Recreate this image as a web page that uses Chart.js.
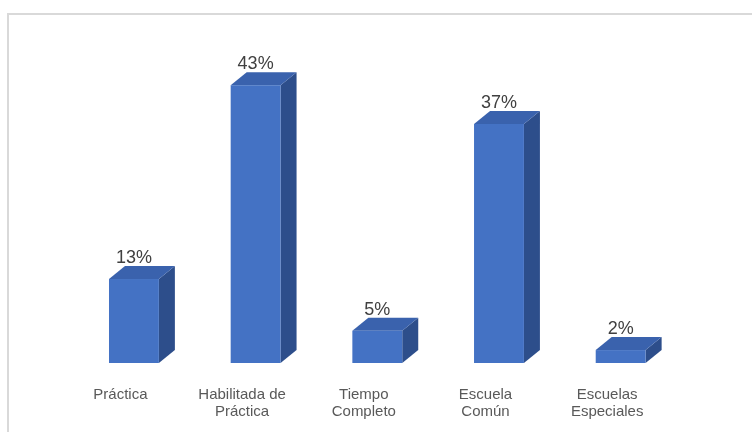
<!DOCTYPE html>
<html>
<head>
<meta charset="utf-8">
<script src="https://cdn.jsdelivr.net/npm/chart.js@4/dist/chart.umd.min.js"></script>
<style>
  html, body { margin: 0; padding: 0; background: #ffffff; }
  canvas { display: block; }
</style>
</head>
<body>
<canvas id="chart" width="752" height="432"></canvas>
<script>
// Categories (multi-line labels as arrays) and their percentages
const categories = [
  "Práctica",
  ["Habilitada de", "Práctica"],
  ["Tiempo", "Completo"],
  ["Escuela", "Común"],
  ["Escuelas", "Especiales"]
];
const percentages = [13, 43, 5, 37, 2];

// 3D box appearance
const FRONT = "#4472C4";
const TOP = "#3A62AD";
const SIDE = "#2D4E8B";
const DEPTH_X = 16;
const DEPTH_Y = 13;
const FRONT_SHIFT = 13.5;

// Light frame along the top and left edges
const framePlugin = {
  id: "frame",
  beforeDraw(chart) {
    const ctx = chart.ctx;
    ctx.save();
    ctx.fillStyle = "#ffffff";
    ctx.fillRect(0, 0, chart.width, chart.height);
    ctx.fillStyle = "#D9D9D9";
    ctx.fillRect(7, 13, chart.width - 7, 2);
    ctx.fillRect(7, 13, 2, chart.height - 13);
    ctx.restore();
  }
};

// Draws each bar as an extruded box plus its value label
const box3dPlugin = {
  id: "box3d",
  afterDatasetsDraw(chart) {
    const ctx = chart.ctx;
    const meta = chart.getDatasetMeta(0);
    const values = chart.data.datasets[0].data;
    ctx.save();
    meta.data.forEach((bar, i) => {
      const p = bar.getProps(["x", "y", "base", "width"], true);
      const l = p.x + FRONT_SHIFT - p.width / 2;
      const r = p.x + FRONT_SHIFT + p.width / 2;
      const t = p.y, b = p.base;

      // side face
      ctx.fillStyle = SIDE;
      ctx.beginPath();
      ctx.moveTo(r, t);
      ctx.lineTo(r + DEPTH_X, t - DEPTH_Y);
      ctx.lineTo(r + DEPTH_X, b - DEPTH_Y);
      ctx.lineTo(r, b);
      ctx.closePath();
      ctx.fill();

      // top face
      ctx.fillStyle = TOP;
      ctx.beginPath();
      ctx.moveTo(l, t);
      ctx.lineTo(l + DEPTH_X, t - DEPTH_Y);
      ctx.lineTo(r + DEPTH_X, t - DEPTH_Y);
      ctx.lineTo(r, t);
      ctx.closePath();
      ctx.fill();

      // front face
      ctx.fillStyle = FRONT;
      ctx.fillRect(l, t, r - l, b - t);

      // value label
      ctx.fillStyle = "#404040";
      ctx.font = "18px 'Liberation Sans', Arial, sans-serif";
      ctx.textAlign = "center";
      ctx.textBaseline = "alphabetic";
      ctx.fillText(values[i] + "%", (l + r) / 2, t - 16);
    });
    ctx.restore();
  }
};

new Chart(document.getElementById("chart"), {
  type: "bar",
  data: {
    labels: categories,
    datasets: [{
      data: percentages,
      backgroundColor: "rgba(0,0,0,0)",
      borderWidth: 0,
      categoryPercentage: 1,
      barPercentage: 0.41
    }]
  },
  options: {
    responsive: false,
    animation: false,
    events: [],
    layout: { padding: { left: 59.6, right: 84, top: 40, bottom: 0 } },
    plugins: {
      legend: { display: false },
      tooltip: { enabled: false },
      title: { display: false }
    },
    scales: {
      x: {
        grid: { display: false, drawTicks: false },
        border: { display: false },
        ticks: {
          color: "#595959",
          padding: 23,
          maxRotation: 0,
          autoSkip: false,
          font: { family: "'Liberation Sans', Arial, sans-serif", size: 15, lineHeight: 1.13 }
        },
        afterFit(scale) { scale.height = 69; }
      },
      y: {
        display: false,
        min: 0,
        max: 50
      }
    }
  },
  plugins: [framePlugin, box3dPlugin]
});
</script>
</body>
</html>
